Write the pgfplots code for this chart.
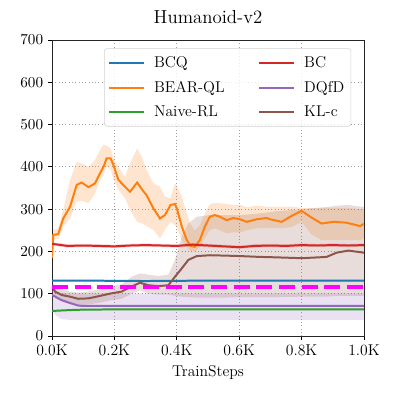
\documentclass[border=0pt]{standalone}
\usepackage{pgfplots}
\pgfplotsset{compat=1.18}
\usepackage{pgfplotstable}
\usepgfplotslibrary{fillbetween}

\definecolor{cbcq}{HTML}{1F77B4}
\definecolor{cbear}{HTML}{FF7F0E}
\definecolor{cnaive}{HTML}{2CA02C}
\definecolor{cbc}{HTML}{D62728}
\definecolor{cdqfd}{HTML}{9467BD}
\definecolor{ckl}{HTML}{8C564B}
\definecolor{cmag}{RGB}{255,0,255}

% x mean lo hi
\pgfplotstableread{
x mean lo hi
0 131 129 133
100 131 129 133
300 130 128 132
500 131 129 133
700 131 129 133
1000 131 129 133
}\bcq

\pgfplotstableread{
x mean lo hi
0 184 175 195
4 239 228 251
20 241 230 255
36 278 258 298
58 306 278 369
79 357 318 412
95 363 320 408
117 352 314 400
138 361 337 416
154 385 369 440
165 400 380 452
175 420 400 450
188 420 395 444
197 404 370 420
213 369 345 400
234 353 326 377
250 341 298 408
273 363 270 444
290 345 266 420
303 333 260 393
325 302 251 361
346 278 231 353
362 286 251 330
380 310 270 326
394 312 262 361
400 302 258 355
416 259 225 330
432 227 210 290
444 213 200 265
458 211 200 250
474 227 210 262
490 259 232 290
506 282 250 312
522 286 255 314
538 282 250 314
560 274 243 312
581 279 245 310
603 276 245 310
624 270 250 305
656 276 255 308
688 279 255 306
699 276 255 306
736 270 255 306
768 284 258 306
800 296 270 303
832 280 240 303
864 266 227 303
902 270 227 303
944 268 227 303
987 260 227 300
1000 265 230 300
}\bear

\pgfplotstableread{
x mean lo hi
0 59 58 60
20 60 59 61
80 62 61 63
200 63 62 64
1000 63 62 64
}\naive

\pgfplotstableread{
x mean lo hi
0 218 214 222
20 216 212 220
50 213 209 217
100 214 210 218
150 213 209 217
200 212 208 216
250 214 210 218
300 215 211 219
350 214 210 218
400 213 209 217
450 216 212 220
500 214 210 218
550 212 208 216
600 210 206 214
650 213 209 217
700 214 210 218
750 213 209 217
800 215 211 219
850 214 210 218
900 215 211 219
950 214 210 218
1000 215 211 219
}\bc

\pgfplotstableread{
x mean lo hi
0 97 60 110
10 93 50 105
30 85 40 102
58 78 38 101
84 72 38 101
100 71 38 101
1000 71 38 101
}\dqfd

\pgfplotstableread{
x mean lo hi
0 117 105 130
10 105 92 118
31 97 82 110
58 93 75 105
84 88 72 103
117 89 75 105
149 94 78 110
191 101 85 118
223 105 88 122
255 117 100 140
282 126 108 148
309 120 100 145
341 118 98 142
373 120 98 145
394 140 95 180
416 160 93 235
437 180 92 266
464 189 91 282
506 191 91 286
560 190 91 286
603 189 92 286
667 187 92 290
720 186 92 295
800 184 93 300
880 187 93 305
912 197 95 308
950 202 95 310
1000 197 95 305
}\klc

% #1 table, #2 colour, #3 path name
\newcommand{\series}[3]{%
  \addplot[#2, line width=1.44pt, forget plot] table[x=x, y=mean] {#1};
  \addplot[draw=none, name path=lo#3, forget plot] table[x=x, y=lo] {#1};
  \addplot[draw=none, name path=hi#3, forget plot] table[x=x, y=hi] {#1};
  \addplot[#2, fill opacity=0.2, draw=none, forget plot] fill between[of=lo#3 and hi#3];
}

\begin{document}
\begin{tikzpicture}
\begin{axis}[
    scale only axis,
    width=3.12in, height=2.96in,
    xmin=0, xmax=1000, ymin=0, ymax=700,
    xtick={0,200,400,600,800,1000},
    xticklabels={0.0K,0.2K,0.4K,0.6K,0.8K,1.0K},
    ytick={0,100,...,700},
    tick align=outside, tick pos=left,
    major tick length=0.04in,
    tick style={black, line width=0.6pt},
    axis line style={black!85, line width=0.6pt},
    grid=major,
    grid style={gray!75, dotted, line width=0.6pt},
    ticklabel style={font=\fontsize{11.3}{13}\selectfont},
    label style={font=\fontsize{11.3}{13}\selectfont},
    title={Humanoid-v2},
    title style={font=\fontsize{13.6}{16}\selectfont, at={(0.5,1)}, anchor=base, yshift=0.08in},
    xlabel={TrainSteps},
    legend columns=2,
    legend cell align=left,
    legend image code/.code={\draw[#1, line width=1.44pt] (0,0) -- (0.35in,0);},
    legend style={at={(0.563,0.972)}, anchor=north,
        font=\fontsize{11.3}{13}\selectfont,
        draw=gray!35, rounded corners=2pt, fill=white,
        fill opacity=0.8, draw opacity=1, text opacity=1,
        row sep=0.06in, inner xsep=0.04in, inner ysep=0.05in,
        /tikz/every odd column/.append style={column sep=0.06in},
        /tikz/every even column/.append style={column sep=0.31in}},
]
\series{\bcq}{cbcq}{a}
\series{\bear}{cbear}{b}
\series{\naive}{cnaive}{c}
\series{\bc}{cbc}{d}
\series{\dqfd}{cdqfd}{e}
\series{\klc}{ckl}{f}
\addplot[cmag, line width=2.9pt, dash pattern=on 0.16in off 0.067in, forget plot]
    coordinates {(0,116) (1000,116)};

\addlegendimage{cbcq}\addlegendentry{BCQ}
\addlegendimage{cbc}\addlegendentry{BC}
\addlegendimage{cbear}\addlegendentry{BEAR-QL}
\addlegendimage{cdqfd}\addlegendentry{DQfD}
\addlegendimage{cnaive}\addlegendentry{Naive-RL}
\addlegendimage{ckl}\addlegendentry{KL-c}
\end{axis}
\pgfresetboundingbox
\path[use as bounding box] (current axis.south west) ++(-0.52in,-0.63in) rectangle ++(3.99in,3.99in);
\end{tikzpicture}
\end{document}
